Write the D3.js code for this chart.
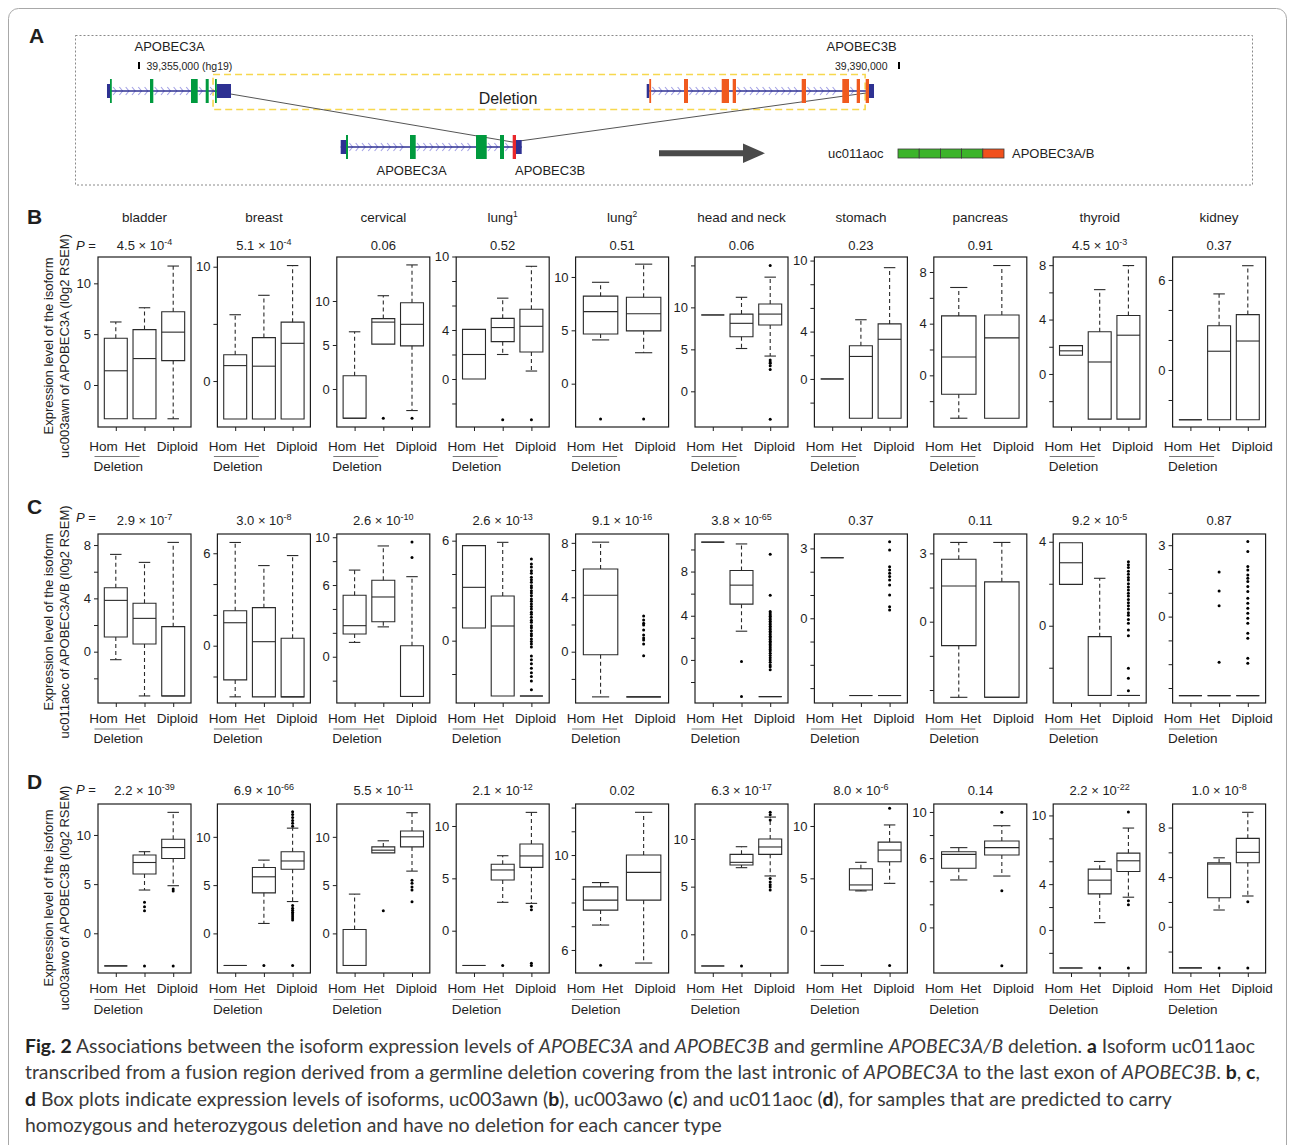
<!DOCTYPE html>
<html>
<head>
<meta charset="utf-8">
<script src="https://cdn.jsdelivr.net/npm/d3@7"></script>
<style>
html, body { margin: 0; padding: 0; background: #fff; }
svg { display: block; }
</style>
</head>
<body>
<svg id="fig" width="1295" height="1145"></svg>
<script>
// ----------------------------------------------------------------------------
// Data
// ----------------------------------------------------------------------------
// Samples with no detected expression sit at log2(0.1).
const F = -3.32;

const categories = ["bladder", "breast", "cervical", "lung", "lung", "head and neck",
                    "stomach", "pancreas", "thyroid", "kidney"];
const categorySup = ["", "", "", "1", "2", "", "", "", "", ""];
const groupLabels = ["Hom", "Het", "Diploid"];

// P values per row (mantissa e exponent)
const pValuesB = ["4.5e-4", "5.1e-4", "0.06", "0.52", "0.51", "0.06", "0.23", "0.91", "4.5e-3", "0.37"];
const pValuesC = ["2.9e-7", "3.0e-8", "2.6e-10", "2.6e-13", "9.1e-16", "3.8e-65", "0.37", "0.11", "9.2e-5", "0.87"];
const pValuesD = ["2.2e-39", "6.9e-66", "5.5e-11", "2.1e-12", "0.02", "6.3e-17", "8.0e-6", "0.14", "2.2e-22", "1.0e-8"];

// Box statistics [lower whisker, Q1, median, Q3, upper whisker] per group.
// lung2 and pancreas have two groups (deletion carriers, diploid).
const statsB = [
  [[F, F, 1.4, 4.6, 6.2], [F, F, 2.6, 5.45, 7.6], [F, 2.4, 5.2, 7.2, 11.7]],
  [[F, F, 1.35, 2.3, 5.8], [F, F, 1.3, 3.8, 7.5], [F, F, 3.3, 5.15, 10.1]],
  [[F, F, F, 1.5, 6.5], [5.1, 5.1, 7.6, 8.0, 10.6], [-2.45, 4.9, 7.35, 9.8, 14.1]],
  [[0, 0, 2.0, 4.05, 4.05], [2.0, 3.05, 4.2, 4.95, 6.6], [0.65, 2.2, 4.3, 5.7, 9.2]],
  [[4.1, 4.65, 6.75, 8.2, 9.5], [2.9, 4.95, 6.55, 8.1, 11.2]],
  [[9.1, 9.1, 9.1, 9.1, 9.1], [5.1, 6.5, 8.1, 9.2, 11.2], [4.2, 7.9, 9.2, 10.4, 13.6]],
  [[0, 0, 0, 0, 0], [F, F, 1.9, 2.8, 5.0], [F, F, 3.35, 4.65, 9.4]],
  [[F, -1.47, 1.42, 4.6, 6.8], [F, F, 2.9, 4.67, 8.5]],
  [[1.38, 1.38, 1.7, 2.08, 2.08], [F, F, 0.88, 3.1, 6.2], [F, F, 2.85, 4.3, 7.97]],
  [[F, F, F, F, F], [F, F, 1.25, 2.95, 5.07], [F, F, 1.93, 3.69, 6.95]]
];
const outliersB = [
  [[], [], []],
  [[], [], []],
  [[], [F], [F]],
  [[], [F], [F]],
  [[F], [F]],
  [[], [], [15.0, 3.73, 3.5, 3.33, 3.05, 2.61, F]],
  [[], [], []],
  [[], []],
  [[], [], []],
  [[], [], []]
];

const statsC = [
  [[-0.6, 1.1, 3.85, 4.8, 7.3], [F, 0.58, 2.5, 3.63, 6.7], [F, F, F, 1.88, 8.2]],
  [[F, -2.22, 1.49, 2.27, 6.7], [F, F, 0.26, 2.47, 5.2], [F, F, F, 0.48, 5.85]],
  [[1.2, 1.9, 2.6, 5.14, 7.25], [2.5, 2.93, 5.0, 6.4, 9.27], [F, F, F, 0.92, 6.7]],
  [[0.76, 0.76, 3.2, 5.7, 5.7], [F, F, 0.88, 2.68, 5.9], [F, F, F, F, F]],
  [[F, -0.22, 4.15, 6.08, 8.05], [F, F, F, F, F]],
  [[10.66, 10.66, 10.66, 10.66, 10.66], [2.6, 5.05, 6.77, 8.1, 10.5], [F, F, F, F, F]],
  [[2.6, 2.6, 2.6, 2.6, 2.6], [F, F, F, F, F], [F, F, F, F, F]],
  [[F, -1.05, 1.57, 2.74, 3.48], [F, F, F, 1.75, 3.48]],
  [[1.97, 1.97, 3.0, 3.95, 3.95], [F, F, F, -0.52, 2.26], [F, F, F, F, F]],
  [[F, F, F, F, F], [F, F, F, F, F], [F, F, F, F, F]]
];
const outliersC = [
  [[], [], []],
  [[], [], []],
  [[], [], [9.6, 8.3]],
  [[], [], [4.9, 4.6, 4.42, 4.2, 4.05, 3.8, 3.66, 3.5, 3.3, 3.18, 3.0, 2.86, 2.7, 2.5, 2.36,
            2.2, 2.05, 1.9, 1.7, 1.58, 1.4, 1.22, 1.1, 0.9, 0.78, 0.6, 0.42, 0.3, 0.1, -0.05,
            -0.2, -0.38, -0.92, -1.15, -1.38, -1.65, -1.92, -2.15, -2.42, -2.95]],
  [[], [2.63, 2.33, 2.1, 1.96, 1.59, 1.23, 1.0, 0.86, 0.57, -0.29]],
  [[], [-0.15, F], [9.57, 5.86, 4.38, 4.25, 4.1, 3.95, 3.8, 3.65, 3.5, 3.35, 3.2, 3.05, 2.9, 2.75,
                     2.6, 2.45, 2.3, 2.15, 2.0, 1.85, 1.7, 1.55, 1.4, 1.25, 1.1, 0.95, 0.8, 0.6,
                     0.4, 0.2, 0.0, -0.2, -0.45, -0.62, -0.9]],
  [[], [], [3.29, 2.93, 2.21, 2.07, 1.93, 1.79, 1.64, 1.43, 1.0, 0.5, 0.36]],
  [[], []],
  [[], [], [3.05, 2.9, 2.78, 2.6, 2.45, 2.3, 2.18, 2.0, 1.85, 1.7, 1.55, 1.42, 1.25, 1.1, 0.95,
            0.8, 0.62, 0.5, 0.3, 0.12, -0.2, -0.48, -2.03, -2.5, -3.1]],
  [[], [1.87, 1.08, 0.46, -1.92], [3.15, 2.73, 2.1, 1.96, 1.75, 1.61, 1.47, 1.26, 1.05, 0.77, 0.56,
                                  0.35, 0.14, -0.07, -0.28, -0.7, -0.91, -1.75, -1.96]]
];

const statsD = [
  [[F, F, F, F, F], [4.4, 6.03, 7.2, 7.97, 8.3], [4.84, 7.6, 8.72, 9.56, 12.3]],
  [[F, F, F, F, F], [1.03, 4.2, 5.86, 6.83, 7.59], [3.3, 6.64, 7.5, 8.45, 10.9]],
  [[F, F, F, 0.41, 4.07], [8.34, 8.34, 8.62, 8.96, 9.59], [6.45, 8.96, 10.0, 10.6, 12.5]],
  [[F, F, F, F, F], [2.71, 4.84, 5.8, 6.34, 7.16], [2.61, 6.05, 7.14, 8.28, 11.3]],
  [[7.05, 7.68, 8.1, 8.66, 8.84], [5.45, 8.1, 9.27, 10.0, 11.8]],
  [[F, F, F, F, F], [6.99, 7.27, 7.55, 8.39, 9.19], [6.12, 8.39, 9.16, 10.0, 12.3]],
  [[F, F, F, F, F], [3.8, 3.89, 4.37, 5.91, 6.53], [4.52, 6.58, 7.7, 8.46, 10.1]],
  [[4.11, 5.12, 6.33, 6.56, 6.91], [4.45, 6.27, 6.91, 7.49, 8.81]],
  [[F, F, F, F, F], [0.64, 3.15, 4.35, 5.31, 5.98], [2.86, 5.1, 6.04, 6.71, 8.9]],
  [[F, F, F, F, F], [1.35, 2.34, 5.06, 5.16, 5.56], [2.48, 5.16, 6.0, 7.13, 9.23]]
];
const outliersD = [
  [[], [3.15, 2.7, 2.3, F], [4.5, 4.3, F]],
  [[], [F], [12.6, 12.3, 12.0, 11.7, 11.4, 11.1, 2.9, 2.6, 2.4, 2.2, 2.0, 1.8, 1.6, 1.4, F]],
  [[], [2.34], [5.5, 5.2, 4.8, 4.5, 3.27]],
  [[], [F], [2.3, 2.0, -3.1, F]],
  [[5.36], []],
  [[], [F], [12.8, 12.55, 12.0, 5.85, 5.5, 5.2, 4.95, 4.65]],
  [[], [], [11.7, F]],
  [[], [9.97, 3.18, F]],
  [[], [F], [10.3, 2.54, 2.19, F]],
  [[], [F], [2.02, F]]
];

// y-axis limits per panel
const limitsB = [[-4.13, 12.59], [-4.02, 10.85], [-4.32, 15.0], [-3.92, 9.96], [-4.06, 11.87],
                 [-4.25, 16.0], [-4.06, 10.3], [-4.0, 9.16], [-3.9, 8.6], [-3.8, 7.53]];
const limitsC = [[-3.85, 8.83], [-3.72, 7.25], [-3.87, 10.27], [-3.74, 6.4], [-3.77, 8.65],
                 [-3.9, 11.4], [-3.64, 3.62], [-3.57, 3.85], [-3.68, 4.37], [-3.63, 3.47]];
const limitsD = [[-4.04, 13.15], [-4.1, 13.4], [-4.1, 13.4], [-4.04, 12.1], [5.03, 12.15],
                 [-4.06, 13.67], [-4.04, 12.1], [-3.95, 10.69], [-3.76, 11.0], [-3.73, 9.9]];

// labelled ticks and unlabelled ticks per panel
const ticksB = [[0, 5, 10], [0, 10], [0, 5, 10], [0, 4, 10], [0, 5, 10],
                [0, 5, 10], [0, 4, 10], [0, 4, 8], [0, 4, 8], [0, 6]];
const minorB = [[], [5], [], [-2, 2, 6, 8], [], [15], [-2, 2, 6, 8], [-2, 2, 6], [-2, 2, 6], [-2, 2, 4]];
const ticksC = [[0, 4, 8], [0, 6], [0, 6, 10], [0, 6], [0, 4, 8],
                [0, 4, 8], [0, 3], [0, 3], [0, 4], [0, 3]];
const minorC = [[-2, 2, 6], [-2, 2, 4], [-2, 2, 4, 8], [-2, 2, 4], [-2, 2, 6],
                [-2, 2, 6, 10], [-3, -2, -1, 1, 2], [-3, -1.5, 1.5], [-2, 2], [-3, -2, -1, 1, 2]];
const ticksD = [[0, 5, 10], [0, 5, 10], [0, 5, 10], [0, 5, 10], [6, 10],
                [0, 5, 10], [0, 5, 10], [0, 6, 10], [0, 4, 10], [0, 4, 8]];
const minorD = [[], [], [], [], [7, 8, 9, 11, 12], [], [], [2, 4, 8], [-2, 2, 6, 8], [-2, 2, 6]];

// Gene models (kb offsets from chr22:39,355,000, hg19)
const geneA = {
  span: [-1.474, 4.237],
  utr: [[-1.474, -1.336], [3.578, 4.237]],
  exons: [[-1.336, -1.257], [0.507, 0.659], [2.395, 2.703], [3.072, 3.21], [3.5, 3.578]]
};
const geneB = {
  span: [23.395, 33.849],
  utr: [[23.381, 23.501], [33.618, 33.849]],
  exons: [[23.501, 23.579], [25.099, 25.283], [26.835, 27.171], [27.341, 27.493],
          [30.519, 30.717], [32.389, 32.698], [33.052, 33.204], [33.466, 33.618]]
};
const deletionSpan = [3.41, 33.44];
// Fused transcript (kb from its 5' end)
const geneFused = {
  span: [0, 6.033],
  utr: [[0, 0.177], [5.843, 6.033]],
  exonsA: [[0.177, 0.243], [2.31, 2.5], [4.51, 4.867], [5.31, 5.443]],
  exonsB: [[5.733, 5.843]]
};
const fusionJunction = 5.72;
const isoformSegments = ["A", "A", "A", "A", "B"];

// ----------------------------------------------------------------------------
// Drawing
// ----------------------------------------------------------------------------
const FONT = "'Liberation Sans', Arial, Helvetica, sans-serif";
const INK = "#1e1e1e";
const svg = d3.select("#fig");

// outer frame of the figure
svg.append("rect")
  .attr("x", 8.5).attr("y", 8.5).attr("width", 1278).attr("height", 1170)
  .attr("rx", 10).attr("fill", "none").attr("stroke", "#a8a8a8").attr("stroke-width", 1);

function letter(x, y, t) {
  svg.append("text").attr("x", x).attr("y", y).text(t)
    .attr("font-family", FONT).attr("font-weight", "bold").attr("font-size", 21).attr("fill", INK);
}

// ---------------------------- panel A ----------------------------------------
(function drawPanelA() {
  const g = svg.append("g");
  g.append("rect").attr("x", 75.5).attr("y", 35.5).attr("width", 1177).attr("height", 149.5)
    .attr("fill", "none").attr("stroke", "#8a8a8a").attr("stroke-width", 1)
    .attr("stroke-dasharray", "2,2");
  letter(29, 43, "A");

  const topX = d3.scaleLinear().domain([0, 35]).range([139, 899]);
  const fusedX = d3.scaleLinear().domain(geneFused.span).range([340.7, 521.7]);
  const yTop = 91, yFused = 147;
  const NAVY = "#2e3192", GREEN = "#009a3e", ORANGE = "#f05a1e", RED = "#e8282c";

  // deletion box
  g.append("rect")
    .attr("x", topX(deletionSpan[0])).attr("y", 74.5)
    .attr("width", topX(deletionSpan[1]) - topX(deletionSpan[0])).attr("height", 35)
    .attr("fill", "none").attr("stroke", "#f7d84e").attr("stroke-width", 1.6)
    .attr("stroke-dasharray", "7,4");
  g.append("text").attr("x", 508).attr("y", 103.5).attr("text-anchor", "middle")
    .attr("font-family", FONT).attr("font-size", 16).attr("fill", INK).text("Deletion");

  function drawGene(scale, y, gene, exonSets) {
    const gg = g.append("g");
    const feats = gene.utr.concat(...exonSets.map(s => s.exons)).sort((a, b) => a[0] - b[0]);
    // intron chevrons
    for (let k = 0; k < feats.length - 1; k++) {
      const x0 = scale(feats[k][1]) + 3, x1 = scale(feats[k + 1][0]) - 3;
      for (let cx = x0; cx <= x1; cx += 6.3) {
        gg.append("path").attr("d", `M${cx - 1.6},${y - 4}L${cx + 1.6},${y}L${cx - 1.6},${y + 4}`)
          .attr("fill", "none").attr("stroke", "#a6a4e6").attr("stroke-width", 1.1);
      }
    }
    gg.append("line").attr("x1", scale(gene.span[0])).attr("x2", scale(gene.span[1]))
      .attr("y1", y).attr("y2", y).attr("stroke", NAVY).attr("stroke-width", 1.6);
    gene.utr.forEach(u => gg.append("rect").attr("x", scale(u[0])).attr("y", y - 7)
      .attr("width", Math.max(2, scale(u[1]) - scale(u[0]))).attr("height", 14).attr("fill", NAVY));
    exonSets.forEach(s => s.exons.forEach(e => gg.append("rect")
      .attr("x", scale(e[0])).attr("y", y - 12)
      .attr("width", Math.max(1.8, scale(e[1]) - scale(e[0]))).attr("height", 24).attr("fill", s.color)));
  }

  // connectors of the fusion
  g.append("line").attr("x1", topX(deletionSpan[0])).attr("y1", yTop)
    .attr("x2", fusedX(fusionJunction)).attr("y2", yFused - 5)
    .attr("stroke", "#555").attr("stroke-width", 1);
  g.append("line").attr("x1", fusedX(fusionJunction)).attr("y1", yFused - 5)
    .attr("x2", topX(deletionSpan[1]) + 1).attr("y2", yTop + 2)
    .attr("stroke", "#555").attr("stroke-width", 1);

  drawGene(topX, yTop, geneA, [{ exons: geneA.exons, color: GREEN }]);
  drawGene(topX, yTop, geneB, [{ exons: geneB.exons, color: ORANGE }]);
  drawGene(fusedX, yFused, geneFused, [{ exons: geneFused.exonsA, color: GREEN }, { exons: geneFused.exonsB, color: RED }]);

  const txt = (x, y, t, size, anchor) => g.append("text").attr("x", x).attr("y", y)
    .attr("text-anchor", anchor || "start").attr("font-family", FONT).attr("font-size", size)
    .attr("fill", INK).text(t);
  txt(134.5, 51, "APOBEC3A", 13);
  txt(146.5, 70, "39,355,000 (hg19)", 10.5);
  g.append("rect").attr("x", topX(0) - 1).attr("y", 62).attr("width", 2).attr("height", 7).attr("fill", "#000");
  txt(826.5, 51, "APOBEC3B", 13);
  txt(835, 70, "39,390,000", 10.5);
  g.append("rect").attr("x", topX(35) - 1).attr("y", 62).attr("width", 2).attr("height", 7).attr("fill", "#000");
  txt(376.5, 175, "APOBEC3A", 13);
  txt(515, 175, "APOBEC3B", 13);

  // arrow
  g.append("path").attr("d", "M659,150.3H743V143.5L765,153.2L743,163V156.2H659Z").attr("fill", "#4a4a4a");

  // fused isoform bar
  txt(828, 158, "uc011aoc", 13);
  const segX = d3.scaleBand().domain(d3.range(isoformSegments.length)).range([898, 1004]);
  g.selectAll("rect.seg").data(isoformSegments).join("rect").attr("class", "seg")
    .attr("x", (d, i) => segX(i)).attr("y", 149).attr("width", segX.bandwidth()).attr("height", 9)
    .attr("fill", d => d === "A" ? "#3cb42a" : "#f1501c").attr("stroke", "#3a3a3a").attr("stroke-width", 0.8);
  txt(1012, 158, "APOBEC3A/B", 13);
})();

// ---------------------------- box plot rows -----------------------------------
const PANEL_LEFT = 98, PANEL_STEP = 119.4, PANEL_W = 93;

const rows = [
  { letter: "B", letterY: 224, top: 257, bottom: 427, pY: 250, pEqY: 250, titleY: 222,
    xLabY: 450.5, lineY: 456.5, delY: 470.5, titleCY: 346,
    yTitle: ["Expression level of the isoform", "uc003awn of APOBEC3A (l0g2 RSEM)"],
    stats: statsB, outliers: outliersB, limits: limitsB, ticks: ticksB, minor: minorB, p: pValuesB },
  { letter: "C", letterY: 514, top: 534, bottom: 703, pY: 525, pEqY: 522,
    xLabY: 722.5, lineY: 729, delY: 743, titleCY: 622,
    yTitle: ["Expression level of the isoform", "uc011aoc of APOBEC3A/B (l0g2 RSEM)"],
    stats: statsC, outliers: outliersC, limits: limitsC, ticks: ticksC, minor: minorC, p: pValuesC },
  { letter: "D", letterY: 789, top: 804, bottom: 973, pY: 795, pEqY: 794,
    xLabY: 992.5, lineY: 999.5, delY: 1013.5, titleCY: 898,
    yTitle: ["Expression level of the isoform", "uc003awo of APOBEC3B (l0g2 RSEM)"],
    stats: statsD, outliers: outliersD, limits: limitsD, ticks: ticksD, minor: minorD, p: pValuesD }
];

function addPValue(sel, s) {
  if (s.includes("e")) {
    const [m, e] = s.split("e");
    sel.append("tspan").text(m + " \u00d7 10");
    sel.append("tspan").attr("dy", -5).attr("font-size", 9).text(e);
  } else {
    sel.text(s);
  }
}

rows.forEach(row => {
  const rg = svg.append("g");
  letter(27, row.letterY, row.letter);

  // y axis title (two lines)
  row.yTitle.forEach((t, k) => {
    const bx = 53 + k * 16;
    rg.append("text").attr("x", bx).attr("y", row.titleCY)
      .attr("transform", `rotate(-90,${bx},${row.titleCY})`)
      .attr("text-anchor", "middle").attr("font-family", FONT).attr("font-size", 13)
      .attr("fill", INK).text(t);
  });

  // P =
  const pe = rg.append("text").attr("x", 76).attr("y", row.pEqY).attr("font-family", FONT)
    .attr("font-size", 13).attr("fill", INK);
  pe.append("tspan").attr("font-style", "italic").text("P");
  pe.append("tspan").text(" =");

  categories.forEach((cat, i) => {
    const left = PANEL_LEFT + i * PANEL_STEP;
    const cx = left + PANEL_W / 2;
    const stats = row.stats[i];
    const n = stats.length;
    const x = d3.scaleLinear().domain(n === 3 ? [0.38, 3.62] : [0.42, 2.58]).range([left, left + PANEL_W]);
    const y = d3.scaleLinear().domain(row.limits[i]).range([row.bottom, row.top]);
    const g = rg.append("g");

    if (row.titleY) {
      const t = g.append("text").attr("x", cx).attr("y", row.titleY).attr("text-anchor", "middle")
        .attr("font-family", FONT).attr("font-size", 13.5).attr("fill", INK);
      t.append("tspan").text(cat);
      if (categorySup[i]) t.append("tspan").attr("dy", -5).attr("font-size", 8.5).text(categorySup[i]);
    }

    const pt = g.append("text").attr("x", cx).attr("y", row.pY).attr("text-anchor", "middle")
      .attr("font-family", FONT).attr("font-size", 13).attr("fill", INK);
    addPValue(pt, row.p[i]);

    // left axis
    const labelled = new Set(row.ticks[i]);
    const allTicks = row.ticks[i].concat(row.minor[i]);
    const ax = g.append("g").attr("transform", `translate(${left},0)`)
      .call(d3.axisLeft(y).tickValues(allTicks).tickSize(4).tickPadding(3)
        .tickFormat(d => labelled.has(d) ? d : ""));
    ax.select(".domain").remove();
    ax.selectAll("line").attr("stroke", INK);
    ax.selectAll("text").attr("font-family", FONT).attr("font-size", 13).attr("fill", INK);

    // bottom ticks (three-group panels)
    if (n === 3) {
      const bx = g.append("g").attr("transform", `translate(0,${row.bottom})`)
        .call(d3.axisBottom(x).tickValues([1, 2, 3]).tickSize(4).tickFormat(""));
      bx.select(".domain").remove();
      bx.selectAll("line").attr("stroke", INK);
    }

    const unit = x(2) - x(1);
    const bw = 0.8 * unit, cw = bw / 2;

    stats.forEach((s, k) => {
      const px = x(k + 1);
      const [lo, q1, med, q3, hi] = s;
      const gb = g.append("g").attr("fill", "none").attr("stroke", "#2a2a2a").attr("stroke-width", 1.1);
      if (hi > q3) {
        gb.append("line").attr("x1", px).attr("x2", px).attr("y1", y(q3)).attr("y2", y(hi)).attr("stroke-dasharray", "4,3");
        gb.append("line").attr("x1", px - cw / 2).attr("x2", px + cw / 2).attr("y1", y(hi)).attr("y2", y(hi));
      }
      if (lo < q1) {
        gb.append("line").attr("x1", px).attr("x2", px).attr("y1", y(q1)).attr("y2", y(lo)).attr("stroke-dasharray", "4,3");
        gb.append("line").attr("x1", px - cw / 2).attr("x2", px + cw / 2).attr("y1", y(lo)).attr("y2", y(lo));
      }
      gb.append("path")
        .attr("d", `M${px - bw / 2},${y(q3)}H${px + bw / 2}V${y(q1)}H${px - bw / 2}Z`);
      gb.append("line").attr("x1", px - bw / 2).attr("x2", px + bw / 2).attr("y1", y(med)).attr("y2", y(med));

      g.selectAll(null).data(row.outliers[i][k]).join("circle")
        .attr("cx", px).attr("cy", d => y(d)).attr("r", 1.5).attr("fill", "#000");
    });

    // frame
    g.append("rect").attr("x", left).attr("y", row.top).attr("width", PANEL_W)
      .attr("height", row.bottom - row.top).attr("fill", "none")
      .attr("stroke", INK).attr("stroke-width", 1.2);

    // group labels
    const lab = (dx, t) => g.append("text").attr("x", cx + dx).attr("y", row.xLabY).attr("text-anchor", "middle")
      .attr("font-family", FONT).attr("font-size", 13.5).attr("fill", INK).text(t);
    lab(-41, groupLabels[0]);
    lab(-9.5, groupLabels[1]);
    lab(33, groupLabels[2]);
    g.append("line").attr("x1", cx - 50).attr("x2", cx - 5).attr("y1", row.lineY).attr("y2", row.lineY)
      .attr("stroke", "#777").attr("stroke-width", 1);
    g.append("text").attr("x", cx - 51).attr("y", row.delY).attr("font-family", FONT)
      .attr("font-size", 13.5).attr("fill", INK).text("Deletion");
  });
});

// ---------------------------- caption ------------------------------------------
const captionLines = [
  [["Fig. 2", "b"], [" Associations between the isoform expression levels of ", ""], ["APOBEC3A", "i"],
   [" and ", ""], ["APOBEC3B", "i"], [" and germline ", ""], ["APOBEC3A/B", "i"], [" deletion. ", ""],
   ["a", "b"], [" Isoform uc011aoc", ""]],
  [["transcribed from a fusion region derived from a germline deletion covering from the last intronic of ", ""],
   ["APOBEC3A", "i"], [" to the last exon of ", ""], ["APOBEC3B", "i"], [". ", ""], ["b", "b"], [", ", ""],
   ["c", "b"], [",", ""]],
  [["d", "b"], [" Box plots indicate expression levels of isoforms, uc003awn (", ""], ["b", "b"],
   ["), uc003awo (", ""], ["c", "b"], [") and uc011aoc (", ""], ["d", "b"],
   ["), for samples that are predicted to carry", ""]],
  [["homozygous and heterozygous deletion and have no deletion for each cancer type", ""]]
];
const capG = svg.append("g");
const capTexts = captionLines.map((segs, li) => {
  const t = capG.append("text").attr("x", 0).attr("y", 0)
    .attr("font-family", "Lato, 'Open Sans', sans-serif").attr("font-size", 19.5).attr("fill", "#3a3a3a")
    .style("white-space", "pre");
  segs.forEach(([s, st]) => {
    const ts = t.append("tspan").text(s);
    if (st === "b") ts.attr("font-weight", "bold").attr("fill", "#222");
    if (st === "i") ts.attr("font-style", "italic");
  });
  return t;
});
const natural = capTexts[0].node().getComputedTextLength();
const sx = (1256 - 25) / natural;
capTexts.forEach((t, li) => {
  t.attr("transform", `translate(25,${1053 + li * 26.3}) scale(${sx},1)`);
});
</script>
</body>
</html>
